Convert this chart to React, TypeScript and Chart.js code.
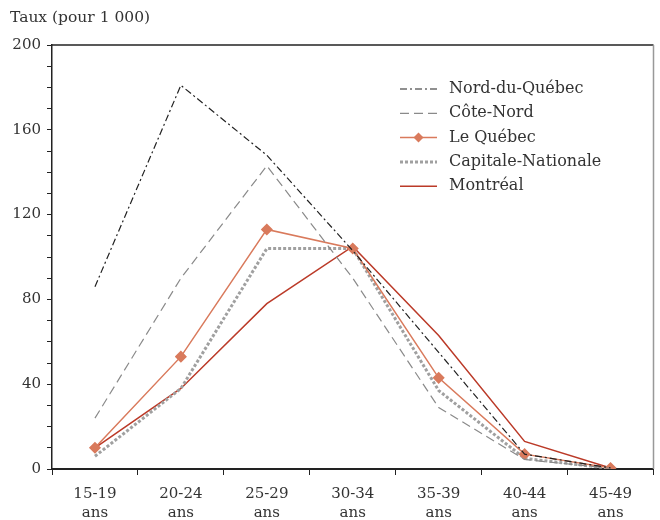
import React, { useEffect, useRef } from "react";
import { Chart, registerables } from "chart.js";

Chart.register(...registerables);

const categories: string[][] = [
  ["15-19", "ans"], ["20-24", "ans"], ["25-29", "ans"], ["30-34", "ans"],
  ["35-39", "ans"], ["40-44", "ans"], ["45-49", "ans"],
];
const nordDuQuebec = [86, 181, 148, 103, 55, 7, 0.5];
const coteNord = [24, 90, 143, 90, 29, 4.5, 0.3];
const leQuebec = [10, 53, 113, 104, 43, 7, 0.5];
const capitaleNationale = [6, 38, 104, 104, 37, 5, 0.3];
const montreal = [10, 38, 78, 105, 63, 13, 0.5];
const yAxisTitle = "Taux (pour 1 000)";
const yLabelStep = 40;

const FONT = "'DejaVu Serif', serif";

const frameAndLegend = {
  id: "frameAndLegend",
  afterDraw(chart: any) {
    const { ctx, chartArea } = chart;
    ctx.save();
    ctx.strokeStyle = "#222";
    ctx.lineWidth = 1.5;
    ctx.beginPath();
    ctx.moveTo(chartArea.left, chartArea.top);
    ctx.lineTo(chartArea.right, chartArea.top);
    ctx.stroke();
    ctx.strokeStyle = "#999";
    ctx.lineWidth = 1.5;
    ctx.beginPath();
    ctx.moveTo(chartArea.right, chartArea.top);
    ctx.lineTo(chartArea.right, chartArea.bottom);
    ctx.stroke();
    ctx.fillStyle = "#333";
    ctx.font = `15.5px ${FONT}`;
    ctx.textBaseline = "middle";
    ctx.textAlign = "left";
    ctx.fillText(yAxisTitle, 10, 18);
    const x0 = 400, x1 = 437, tx = 449;
    let y = 89;
    chart.data.datasets.forEach((ds: any) => {
      ctx.save();
      ctx.strokeStyle = ds.borderColor;
      ctx.lineWidth = ds.borderWidth;
      ctx.setLineDash(ds.borderDash || []);
      ctx.beginPath();
      ctx.moveTo(x0, y);
      ctx.lineTo(x1, y);
      ctx.stroke();
      if (ds.pointRadius > 0) {
        ctx.setLineDash([]);
        ctx.fillStyle = ds.pointBackgroundColor;
        const r = ds.pointRadius;
        const cx = (x0 + x1) / 2;
        ctx.beginPath();
        ctx.moveTo(cx, y - r);
        ctx.lineTo(cx + r, y);
        ctx.lineTo(cx, y + r);
        ctx.lineTo(cx - r, y);
        ctx.closePath();
        ctx.fill();
      }
      ctx.restore();
      ctx.fillStyle = "#333";
      ctx.font = `16px ${FONT}`;
      ctx.textBaseline = "middle";
      ctx.fillText(ds.label, tx, y);
      y += 24.3;
    });
    ctx.restore();
  },
};

export default function App() {
  const ref = useRef<HTMLCanvasElement>(null);
  useEffect(() => {
    if (!ref.current) return;
    const chart = new Chart(ref.current, {
      type: "line",
      data: {
        labels: categories,
        datasets: [
          {
            label: "Nord-du-Québec", data: nordDuQuebec, borderColor: "#222",
            borderWidth: 1.2, borderDash: [7, 3, 2, 3], pointRadius: 0, fill: false,
          },
          {
            label: "Côte-Nord", data: coteNord, borderColor: "#8a8a8a",
            borderWidth: 1.2, borderDash: [9, 5], pointRadius: 0, fill: false,
          },
          {
            label: "Le Québec", data: leQuebec, borderColor: "#d97a5c",
            borderWidth: 1.5, pointRadius: 5, pointStyle: "rectRot",
            pointBackgroundColor: "#d97a5c", pointBorderColor: "#d97a5c", fill: false,
          },
          {
            label: "Capitale-Nationale", data: capitaleNationale, borderColor: "#a0a0a0",
            borderWidth: 3, borderDash: [3, 2], pointRadius: 0, fill: false,
          },
          {
            label: "Montréal", data: montreal, borderColor: "#bb3a28",
            borderWidth: 1.5, pointRadius: 0, fill: false,
          },
        ],
      },
      options: {
        animation: false,
        responsive: false,
        layout: { padding: { top: 45, right: 6, left: 0, bottom: 0 } },
        plugins: { legend: { display: false }, tooltip: { enabled: false } },
        scales: {
          x: {
            type: "category",
            offset: true,
            grid: { display: true, drawOnChartArea: false, offset: true, tickLength: 6, color: "#222" },
            border: { display: true, color: "#222", width: 2 },
            ticks: { color: "#333", font: { family: FONT, size: 15, lineHeight: 1.3 }, padding: 9, maxRotation: 0 },
            afterFit: (s: any) => { s.height = 51; },
          },
          y: {
            min: 0, max: 200,
            grid: { display: true, drawOnChartArea: false, tickLength: 5, color: "#222" },
            border: { display: true, color: "#222", width: 1.5 },
            ticks: {
              stepSize: 10, color: "#333", font: { family: FONT, size: 15 }, padding: 6,
              autoSkip: false,
              callback: (v: any) => (Number(v) % yLabelStep === 0 ? String(v) : ""),
            },
            afterFit: (s: any) => { s.width = 52; },
          },
        },
      },
      plugins: [frameAndLegend],
    } as any);
    return () => chart.destroy();
  }, []);
  return (
    <div style={{ position: "fixed", left: 0, top: 0, width: 660, height: 520, background: "#fff" }}>
      <canvas ref={ref} width={660} height={520} style={{ display: "block", width: 660, height: 520 }} />
    </div>
  );
}
